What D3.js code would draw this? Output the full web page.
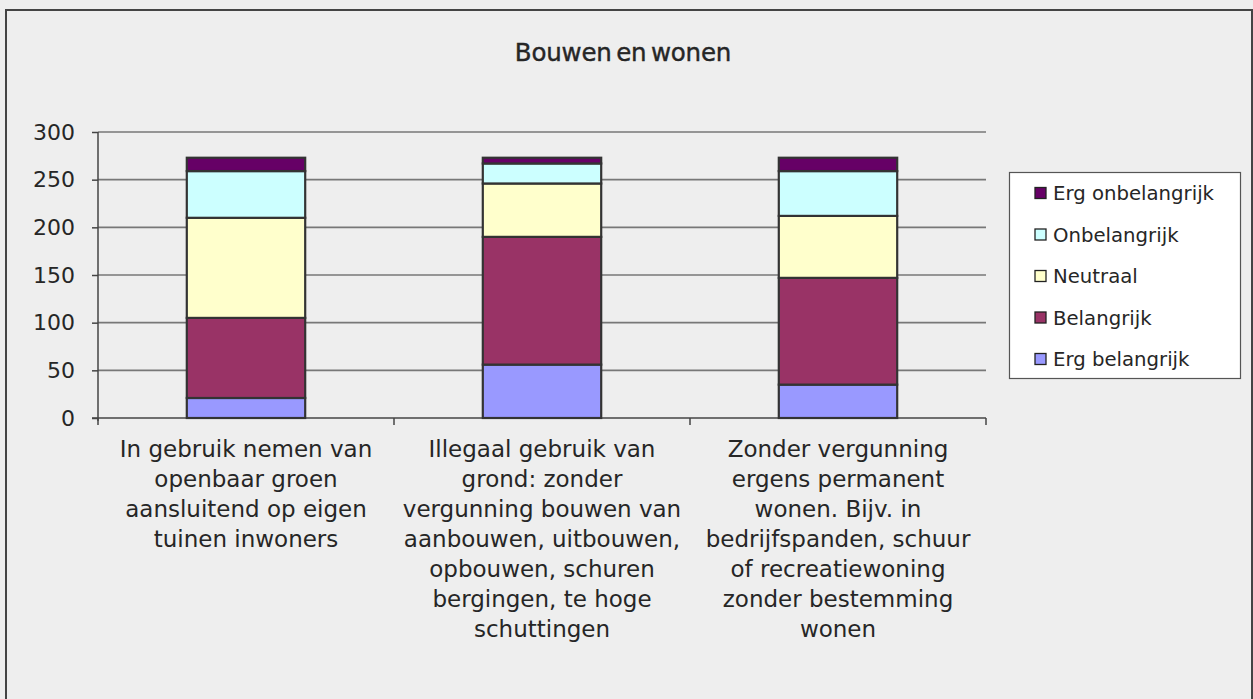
<!DOCTYPE html>
<html>
<head>
<meta charset="utf-8">
<script src="https://cdn.jsdelivr.net/npm/d3@7"></script>
<style>
  html, body { margin: 0; padding: 0; background: #eeeeee; overflow: hidden; }
  text { font-family: "DejaVu Sans", Verdana, sans-serif; fill: #262626; }
</style>
</head>
<body>
<svg id="chart" width="1253" height="699"></svg>
<script>
const title = "Bouwen en wonen";
const categories = [
  ["In gebruik nemen van", "openbaar groen", "aansluitend op eigen", "tuinen inwoners"],
  ["Illegaal gebruik van", "grond: zonder", "vergunning bouwen van", "aanbouwen, uitbouwen,", "opbouwen, schuren", "bergingen, te hoge", "schuttingen"],
  ["Zonder vergunning", "ergens permanent", "wonen. Bijv. in", "bedrijfspanden, schuur", "of recreatiewoning", "zonder bestemming", "wonen"]
];
const seriesNames = ["Erg belangrijk", "Belangrijk", "Neutraal", "Onbelangrijk", "Erg onbelangrijk"];
const seriesColors = ["#9999ff", "#993366", "#ffffcc", "#ccffff", "#660066"];
const ergBelangrijk   = [21, 56, 35];
const belangrijk      = [84, 134, 112];
const neutraal        = [105, 56, 65];
const onbelangrijk    = [49, 21, 47];
const ergOnbelangrijk = [14, 6, 14];
const yTicks = [0, 50, 100, 150, 200, 250, 300];

const seriesValues = [ergBelangrijk, belangrijk, neutraal, onbelangrijk, ergOnbelangrijk];
const rows = categories.map((c, i) => {
  const r = { idx: i };
  seriesNames.forEach((s, j) => r[s] = seriesValues[j][i]);
  return r;
});

const svg = d3.select("#chart");

// outer border
svg.append("rect")
  .attr("x", 6).attr("y", 10).attr("width", 1246).attr("height", 720)
  .attr("fill", "#eeeeee").attr("stroke", "#444").attr("stroke-width", 2);

const plot = { left: 98, right: 986, top: 132, bottom: 418 };

const x = d3.scaleBand()
  .domain(d3.range(categories.length))
  .range([plot.left, plot.right])
  .paddingInner(0.6).paddingOuter(0.3);

const y = d3.scaleLinear().domain([0, 300]).range([plot.bottom, plot.top]);

// title
svg.append("text")
  .attr("x", 623).attr("y", 61)
  .attr("text-anchor", "middle")
  .style("font-size", "24.5px")
  .style("word-spacing", "-3px")
  .style("letter-spacing", "-0.2px")
  .style("stroke", "#262626").style("stroke-width", 0.4)
  .text(title);

// gridlines
svg.append("g").selectAll("line").data(yTicks.filter(t => t > 0)).join("line")
  .attr("x1", plot.left).attr("x2", plot.right)
  .attr("y1", d => y(d)).attr("y2", d => y(d))
  .attr("stroke", "#777").attr("stroke-width", 1.6);

// y axis
const yAxis = d3.axisLeft(y).tickValues(yTicks).tickSize(6).tickPadding(17);
const yg = svg.append("g").attr("transform", `translate(${plot.left},0)`).call(yAxis);
yg.select(".domain").attr("stroke", "#444").attr("stroke-width", 1.5)
  .attr("d", `M0,${plot.top}V${plot.bottom + 3}`);
yg.selectAll(".tick line").attr("stroke", "#444").attr("stroke-width", 1.5);
yg.selectAll(".tick text").style("font-size", "22px").attr("fill", "#262626")
  .style("font-family", "'DejaVu Sans', Verdana, sans-serif");

// x axis line and ticks
svg.append("line")
  .attr("x1", plot.left - 6).attr("x2", plot.right)
  .attr("y1", plot.bottom).attr("y2", plot.bottom)
  .attr("stroke", "#444").attr("stroke-width", 1.6);
const step = x.step();
const boundaries = d3.range(categories.length + 1).map(i => x(0) - (step - x.bandwidth()) / 2 + i * step);
svg.append("g").selectAll("line").data(boundaries).join("line")
  .attr("x1", d => d).attr("x2", d => d)
  .attr("y1", plot.bottom).attr("y2", plot.bottom + 7)
  .attr("stroke", "#444").attr("stroke-width", 1.5);

// stacked bars
const stack = d3.stack().keys(seriesNames)(rows);
const color = d3.scaleOrdinal().domain(seriesNames).range(seriesColors);
svg.append("g").selectAll("g").data(stack).join("g")
  .attr("fill", d => color(d.key))
  .selectAll("rect").data(d => d).join("rect")
  .attr("x", d => x(d.data.idx))
  .attr("width", x.bandwidth())
  .attr("y", d => y(d[1]))
  .attr("height", d => y(d[0]) - y(d[1]))
  .attr("stroke", "#333").attr("stroke-width", 2.2);

// category labels
const lab = svg.append("g");
categories.forEach((lines, i) => {
  const t = lab.append("text")
    .attr("text-anchor", "middle")
    .style("font-size", "23px");
  lines.forEach((ln, k) => {
    t.append("tspan")
      .attr("x", x(i) + x.bandwidth() / 2)
      .attr("y", 457 + k * 30)
      .text(ln);
  });
});

// legend
const lg = svg.append("g");
lg.append("rect")
  .attr("x", 1009.5).attr("y", 172.5).attr("width", 231).attr("height", 206)
  .attr("fill", "#ffffff").attr("stroke", "#555").attr("stroke-width", 1.2);
const legendOrder = seriesNames.slice().reverse();
const items = lg.selectAll("g.item").data(legendOrder).join("g")
  .attr("class", "item")
  .attr("transform", (d, i) => `translate(1035, ${193 + i * 41.5})`);
items.append("rect")
  .attr("x", 0).attr("y", -5.5).attr("width", 11).attr("height", 11)
  .attr("fill", d => color(d)).attr("stroke", "#222").attr("stroke-width", 1.3);
items.append("text")
  .attr("x", 18).attr("y", 7)
  .style("font-size", "19.7px")
  .text(d => d);
</script>
</body>
</html>
